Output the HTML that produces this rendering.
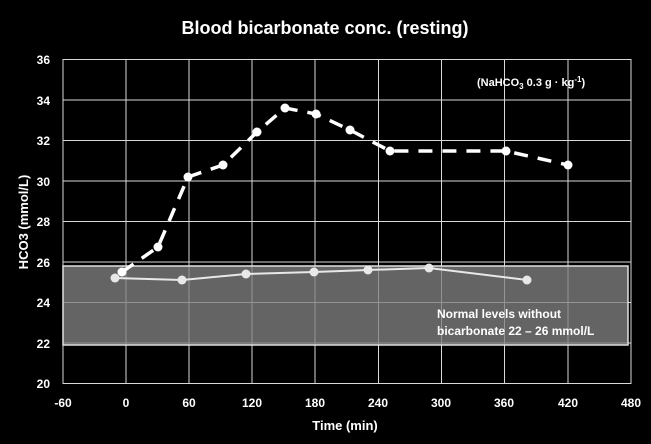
<!DOCTYPE html><html><head><style>body{margin:0;background:#000}svg{display:block}text{font-family:"Liberation Sans",sans-serif;fill:#fff;font-weight:bold}</style></head><body>
<svg width="651" height="444" viewBox="0 0 651 444">
<rect width="651" height="444" fill="#000"/>
<g stroke="#d9d9d9" stroke-width="1">
<line x1="63" y1="59.5" x2="631" y2="59.5"/><line x1="63" y1="100" x2="631" y2="100"/><line x1="63" y1="140.5" x2="631" y2="140.5"/><line x1="63" y1="181" x2="631" y2="181"/><line x1="63" y1="221.5" x2="631" y2="221.5"/><line x1="63" y1="262" x2="631" y2="262"/><line x1="63" y1="302.5" x2="631" y2="302.5"/><line x1="63" y1="343" x2="631" y2="343"/><line x1="63" y1="383.5" x2="631" y2="383.5"/>
<line x1="63" y1="59" x2="63" y2="384"/><line x1="126" y1="59" x2="126" y2="384"/><line x1="189" y1="59" x2="189" y2="384"/><line x1="252" y1="59" x2="252" y2="384"/><line x1="315" y1="59" x2="315" y2="384"/><line x1="378.5" y1="59" x2="378.5" y2="384"/><line x1="441.5" y1="59" x2="441.5" y2="384"/><line x1="504.5" y1="59" x2="504.5" y2="384"/><line x1="568" y1="59" x2="568" y2="384"/><line x1="631" y1="59" x2="631" y2="384"/>
</g>
<rect x="63" y="266" width="565" height="79" fill="#808080" fill-opacity="0.78" stroke="#e0e0e0" stroke-width="1.5"/>
<polyline points="115,278 182,280 246,274 314,272 368,270 429,268 527,280" fill="none" stroke="#e8e8e8" stroke-width="2"/>
<g fill="#e8e8e8"><circle cx="115" cy="278" r="4.5"/><circle cx="182" cy="280" r="4.5"/><circle cx="246" cy="274" r="4.5"/><circle cx="314" cy="272" r="4.5"/><circle cx="368" cy="270" r="4.5"/><circle cx="429" cy="268" r="4.5"/><circle cx="527" cy="280" r="4.5"/></g>
<polyline points="122,272 158,247 188,177 223,165 257,132 285,108 316,114 350,130 390,151 506,151 568,165" fill="none" stroke="#fff" stroke-width="3.5" stroke-dasharray="14,10"/>
<g fill="#fff"><circle cx="122" cy="272" r="4.5"/><circle cx="158" cy="247" r="4.5"/><circle cx="188" cy="177" r="4.5"/><circle cx="223" cy="165" r="4.5"/><circle cx="257" cy="132" r="4.5"/><circle cx="285" cy="108" r="4.5"/><circle cx="316" cy="114" r="4.5"/><circle cx="350" cy="130" r="4.5"/><circle cx="390" cy="151" r="4.5"/><circle cx="506" cy="151" r="4.5"/><circle cx="568" cy="165" r="4.5"/></g>
<text x="325" y="34" font-size="18" text-anchor="middle">Blood bicarbonate conc. (resting)</text>
<g font-size="12" text-anchor="end"><text x="50" y="64">36</text><text x="50" y="105">34</text><text x="50" y="145">32</text><text x="50" y="186">30</text><text x="50" y="226">28</text><text x="50" y="267">26</text><text x="50" y="307">24</text><text x="50" y="348">22</text><text x="50" y="388">20</text></g>
<g font-size="12" text-anchor="middle"><text x="63" y="407">-60</text><text x="126" y="407">0</text><text x="189" y="407">60</text><text x="252" y="407">120</text><text x="315" y="407">180</text><text x="378" y="407">240</text><text x="441" y="407">300</text><text x="504" y="407">360</text><text x="568" y="407">420</text><text x="631" y="407">480</text></g>
<text x="345" y="430" font-size="13" text-anchor="middle">Time (min)</text>
<text transform="translate(28,222) rotate(-90)" font-size="13" text-anchor="middle">HCO3 (mmol/L)</text>
<text x="477" y="86" font-size="11">(NaHCO<tspan font-size="8" dy="3">3</tspan><tspan dy="-3"> 0.3 g · kg</tspan><tspan font-size="8" dy="-4">-1</tspan><tspan dy="4">)</tspan></text>
<text x="437" y="318" font-size="12">Normal levels without</text>
<text x="437" y="335" font-size="12">bicarbonate 22 – 26 mmol/L</text>
</svg></body></html>
